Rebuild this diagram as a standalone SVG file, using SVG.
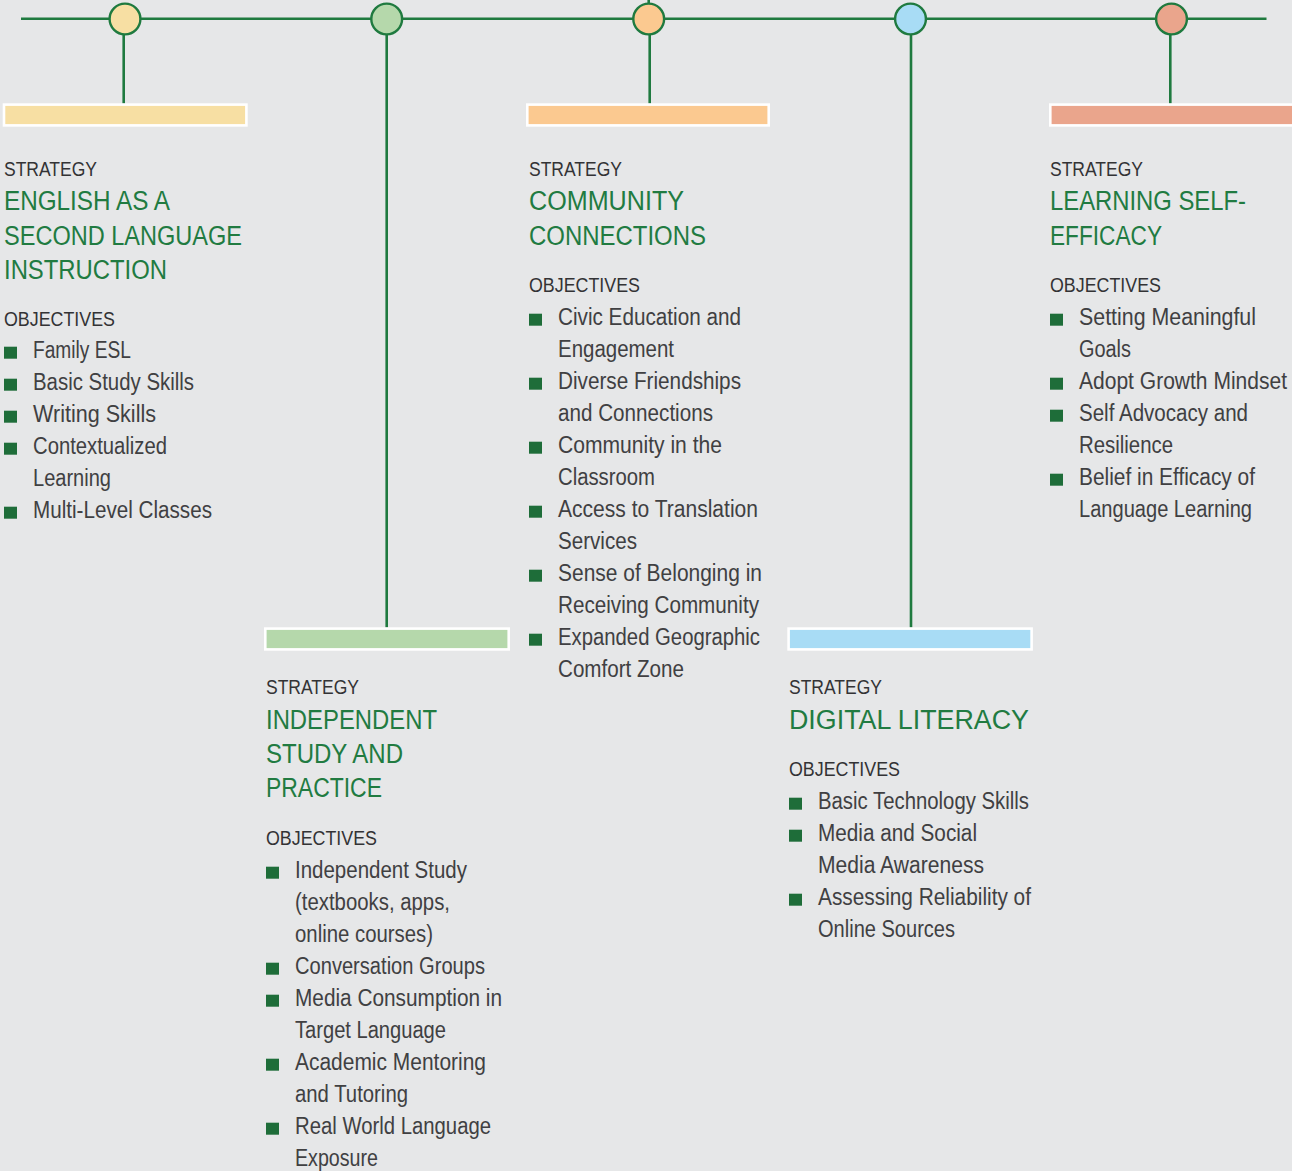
<svg xmlns="http://www.w3.org/2000/svg" width="1292" height="1171" viewBox="0 0 1292 1171">
<style>
.bg{fill:#e6e7e8}
.ln{stroke:#1f7a3f;stroke-width:2.6;fill:none}
.dot{stroke:#1f7a3f;stroke-width:2.4}
.bar{stroke:#ffffff;stroke-width:2.6}
.lab{font-family:"Liberation Sans Narrow","Liberation Sans",Arial,sans-serif;font-size:20.5px;fill:#333335}
.ttl{font-family:"Liberation Sans Narrow","Liberation Sans",Arial,sans-serif;font-size:27px;fill:#217b41}
.itm{font-family:"Liberation Sans Narrow","Liberation Sans",Arial,sans-serif;font-size:23px;fill:#404042}
.blt{fill:#1e6d39}
.tx{transform:translate(0px,-0.8px)}
</style>
<rect class="bg" x="0" y="0" width="1292" height="1171"/>
<g id="connectors">
<line class="ln" x1="21" y1="18.7" x2="1266.5" y2="18.7"/>
<line class="ln" x1="648.7" y1="0" x2="648.7" y2="4"/>
<line class="ln" x1="123.7" y1="34" x2="123.7" y2="103.5"/>
<line class="ln" x1="386.7" y1="34" x2="386.7" y2="627.5"/>
<line class="ln" x1="649.7" y1="34" x2="649.7" y2="103.5"/>
<line class="ln" x1="911" y1="34" x2="911" y2="627.5"/>
<line class="ln" x1="1170.3" y1="34" x2="1170.3" y2="103.5"/>
</g>
<g id="node-esl">
<circle class="dot" cx="125" cy="19" r="15.4" fill="#f7dfa3"/>
<rect class="bar" x="4" y="104.6" width="242.4" height="20.8" fill="#f7dfa3"/>
<rect class="blt" x="4" y="346.7" width="13" height="12"/>
<rect class="blt" x="4" y="378.7" width="13" height="12"/>
<rect class="blt" x="4" y="410.7" width="13" height="12"/>
<rect class="blt" x="4" y="442.7" width="13" height="12"/>
<rect class="blt" x="4" y="506.7" width="13" height="12"/>
<g class="tx">
<text class="lab" x="4" y="177" textLength="93" lengthAdjust="spacingAndGlyphs">STRATEGY</text>
<text class="ttl" x="4" y="211" textLength="166" lengthAdjust="spacingAndGlyphs">ENGLISH AS A</text>
<text class="ttl" x="4" y="245.5" textLength="238" lengthAdjust="spacingAndGlyphs">SECOND LANGUAGE</text>
<text class="ttl" x="4" y="280" textLength="163" lengthAdjust="spacingAndGlyphs">INSTRUCTION</text>
<text class="lab" x="4" y="327" textLength="111" lengthAdjust="spacingAndGlyphs">OBJECTIVES</text>
<text class="itm" x="33" y="359" textLength="98" lengthAdjust="spacingAndGlyphs">Family ESL</text>
<text class="itm" x="33" y="391" textLength="161" lengthAdjust="spacingAndGlyphs">Basic Study Skills</text>
<text class="itm" x="33" y="423" textLength="123" lengthAdjust="spacingAndGlyphs">Writing Skills</text>
<text class="itm" x="33" y="455" textLength="134" lengthAdjust="spacingAndGlyphs">Contextualized</text>
<text class="itm" x="33" y="487" textLength="78" lengthAdjust="spacingAndGlyphs">Learning</text>
<text class="itm" x="33" y="519" textLength="179" lengthAdjust="spacingAndGlyphs">Multi-Level Classes</text>
</g>
</g>
<g id="node-independent">
<circle class="dot" cx="386.7" cy="19" r="15.4" fill="#b5d8ab"/>
<rect class="bar" x="265.3" y="628.6" width="243.4" height="20.8" fill="#b5d8ab"/>
<rect class="blt" x="266" y="866.7" width="13" height="12"/>
<rect class="blt" x="266" y="962.7" width="13" height="12"/>
<rect class="blt" x="266" y="994.7" width="13" height="12"/>
<rect class="blt" x="266" y="1058.7" width="13" height="12"/>
<rect class="blt" x="266" y="1122.7" width="13" height="12"/>
<g class="tx">
<text class="lab" x="266" y="694.5" textLength="93" lengthAdjust="spacingAndGlyphs">STRATEGY</text>
<text class="ttl" x="266" y="730" textLength="171" lengthAdjust="spacingAndGlyphs">INDEPENDENT</text>
<text class="ttl" x="266" y="764" textLength="137" lengthAdjust="spacingAndGlyphs">STUDY AND</text>
<text class="ttl" x="266" y="798" textLength="116" lengthAdjust="spacingAndGlyphs">PRACTICE</text>
<text class="lab" x="266" y="845.5" textLength="111" lengthAdjust="spacingAndGlyphs">OBJECTIVES</text>
<text class="itm" x="295" y="879" textLength="172" lengthAdjust="spacingAndGlyphs">Independent Study</text>
<text class="itm" x="295" y="911" textLength="155" lengthAdjust="spacingAndGlyphs">(textbooks, apps,</text>
<text class="itm" x="295" y="943" textLength="138" lengthAdjust="spacingAndGlyphs">online courses)</text>
<text class="itm" x="295" y="975" textLength="190" lengthAdjust="spacingAndGlyphs">Conversation Groups</text>
<text class="itm" x="295" y="1007" textLength="207" lengthAdjust="spacingAndGlyphs">Media Consumption in</text>
<text class="itm" x="295" y="1039" textLength="151" lengthAdjust="spacingAndGlyphs">Target Language</text>
<text class="itm" x="295" y="1071" textLength="191" lengthAdjust="spacingAndGlyphs">Academic Mentoring</text>
<text class="itm" x="295" y="1103" textLength="113" lengthAdjust="spacingAndGlyphs">and Tutoring</text>
<text class="itm" x="295" y="1135" textLength="196" lengthAdjust="spacingAndGlyphs">Real World Language</text>
<text class="itm" x="295" y="1167" textLength="83" lengthAdjust="spacingAndGlyphs">Exposure</text>
</g>
</g>
<g id="node-community">
<circle class="dot" cx="648.7" cy="19" r="15.4" fill="#fbc990"/>
<rect class="bar" x="527.3" y="104.6" width="241.4" height="20.8" fill="#fbc990"/>
<rect class="blt" x="529" y="313.7" width="13" height="12"/>
<rect class="blt" x="529" y="377.7" width="13" height="12"/>
<rect class="blt" x="529" y="441.7" width="13" height="12"/>
<rect class="blt" x="529" y="505.7" width="13" height="12"/>
<rect class="blt" x="529" y="569.7" width="13" height="12"/>
<rect class="blt" x="529" y="633.7" width="13" height="12"/>
<g class="tx">
<text class="lab" x="529" y="177" textLength="93" lengthAdjust="spacingAndGlyphs">STRATEGY</text>
<text class="ttl" x="529" y="211" textLength="155" lengthAdjust="spacingAndGlyphs">COMMUNITY</text>
<text class="ttl" x="529" y="245.5" textLength="177" lengthAdjust="spacingAndGlyphs">CONNECTIONS</text>
<text class="lab" x="529" y="293" textLength="111" lengthAdjust="spacingAndGlyphs">OBJECTIVES</text>
<text class="itm" x="558" y="326" textLength="183" lengthAdjust="spacingAndGlyphs">Civic Education and</text>
<text class="itm" x="558" y="358" textLength="116" lengthAdjust="spacingAndGlyphs">Engagement</text>
<text class="itm" x="558" y="390" textLength="183" lengthAdjust="spacingAndGlyphs">Diverse Friendships</text>
<text class="itm" x="558" y="422" textLength="155" lengthAdjust="spacingAndGlyphs">and Connections</text>
<text class="itm" x="558" y="454" textLength="164" lengthAdjust="spacingAndGlyphs">Community in the</text>
<text class="itm" x="558" y="486" textLength="97" lengthAdjust="spacingAndGlyphs">Classroom</text>
<text class="itm" x="558" y="518" textLength="200" lengthAdjust="spacingAndGlyphs">Access to Translation</text>
<text class="itm" x="558" y="550" textLength="79" lengthAdjust="spacingAndGlyphs">Services</text>
<text class="itm" x="558" y="582" textLength="204" lengthAdjust="spacingAndGlyphs">Sense of Belonging in</text>
<text class="itm" x="558" y="614" textLength="201" lengthAdjust="spacingAndGlyphs">Receiving Community</text>
<text class="itm" x="558" y="646" textLength="202" lengthAdjust="spacingAndGlyphs">Expanded Geographic</text>
<text class="itm" x="558" y="678" textLength="126" lengthAdjust="spacingAndGlyphs">Comfort Zone</text>
</g>
</g>
<g id="node-digital">
<circle class="dot" cx="910.5" cy="19" r="15.4" fill="#a8dcf5"/>
<rect class="bar" x="788.6" y="628.6" width="243" height="20.8" fill="#a8dcf5"/>
<rect class="blt" x="789" y="797.7" width="13" height="12"/>
<rect class="blt" x="789" y="829.7" width="13" height="12"/>
<rect class="blt" x="789" y="893.7" width="13" height="12"/>
<g class="tx">
<text class="lab" x="789" y="694.5" textLength="93" lengthAdjust="spacingAndGlyphs">STRATEGY</text>
<text class="ttl" x="789" y="730" textLength="240" lengthAdjust="spacingAndGlyphs">DIGITAL LITERACY</text>
<text class="lab" x="789" y="777" textLength="111" lengthAdjust="spacingAndGlyphs">OBJECTIVES</text>
<text class="itm" x="818" y="810" textLength="211" lengthAdjust="spacingAndGlyphs">Basic Technology Skills</text>
<text class="itm" x="818" y="842" textLength="159" lengthAdjust="spacingAndGlyphs">Media and Social</text>
<text class="itm" x="818" y="874" textLength="166" lengthAdjust="spacingAndGlyphs">Media Awareness</text>
<text class="itm" x="818" y="906" textLength="213" lengthAdjust="spacingAndGlyphs">Assessing Reliability of</text>
<text class="itm" x="818" y="938" textLength="137" lengthAdjust="spacingAndGlyphs">Online Sources</text>
</g>
</g>
<g id="node-selfefficacy">
<circle class="dot" cx="1171.5" cy="19" r="15.4" fill="#eaa58c"/>
<rect class="bar" x="1050.3" y="104.6" width="250" height="20.8" fill="#eaa58c"/>
<rect class="blt" x="1050" y="313.7" width="13" height="12"/>
<rect class="blt" x="1050" y="377.7" width="13" height="12"/>
<rect class="blt" x="1050" y="409.7" width="13" height="12"/>
<rect class="blt" x="1050" y="473.7" width="13" height="12"/>
<g class="tx">
<text class="lab" x="1050" y="177" textLength="93" lengthAdjust="spacingAndGlyphs">STRATEGY</text>
<text class="ttl" x="1050" y="211" textLength="196" lengthAdjust="spacingAndGlyphs">LEARNING SELF-</text>
<text class="ttl" x="1050" y="245.5" textLength="112" lengthAdjust="spacingAndGlyphs">EFFICACY</text>
<text class="lab" x="1050" y="293" textLength="111" lengthAdjust="spacingAndGlyphs">OBJECTIVES</text>
<text class="itm" x="1079" y="326" textLength="177" lengthAdjust="spacingAndGlyphs">Setting Meaningful</text>
<text class="itm" x="1079" y="358" textLength="52" lengthAdjust="spacingAndGlyphs">Goals</text>
<text class="itm" x="1079" y="390" textLength="208" lengthAdjust="spacingAndGlyphs">Adopt Growth Mindset</text>
<text class="itm" x="1079" y="422" textLength="169" lengthAdjust="spacingAndGlyphs">Self Advocacy and</text>
<text class="itm" x="1079" y="454" textLength="94" lengthAdjust="spacingAndGlyphs">Resilience</text>
<text class="itm" x="1079" y="486" textLength="176" lengthAdjust="spacingAndGlyphs">Belief in Efficacy of</text>
<text class="itm" x="1079" y="518" textLength="173" lengthAdjust="spacingAndGlyphs">Language Learning</text>
</g>
</g>
</svg>
